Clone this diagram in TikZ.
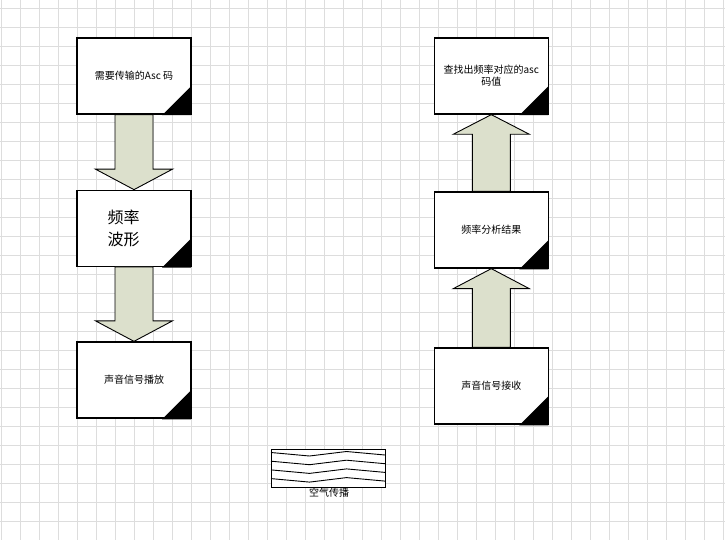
\documentclass[tikz,border=0pt]{standalone}
\usepackage{fontspec}
\newfontfamily\cjk{Noto Sans CJK SC}
\usetikzlibrary{calc}
\definecolor{arrowfill}{RGB}{220,224,204}
\definecolor{gridgray}{RGB}{221,221,221}
\begin{document}
\begin{tikzpicture}[x=1pt,y=-1pt,
    gridline/.style={draw=gridgray,line width=1pt},
    card/.style={draw,line width=1.3pt,fill=white,minimum width=114pt,minimum height=76pt,
      inner sep=2pt,font=\cjk\fontsize{10}{12}\selectfont,align=center},
    blockarrow/.style={draw,line width=0.9pt,fill=arrowfill,line join=miter}]
  \fill[white] (0,0) rectangle (725,540);
  \useasboundingbox (0,0) rectangle (725,540);
  \foreach \gx in {1.3,20.3,...,725} \draw[gridline] (\gx,0) -- (\gx,540);
  \foreach \gy in {8.3,27.3,...,540} \draw[gridline] (0,\gy) -- (725,\gy);

  \node[card] (ascin) at (134,76) {需要传输的Asc 码};
  \node[card,text width=52.6pt,align=left,font=\cjk\fontsize{16}{22}\selectfont] (boxing) at (134,228.3) {频率\\波形};
  \node[card] (bofang) at (134,380) {声音信号播放};

  \node[card] (chazhao) at (491.3,76) {查找出频率对应的asc\\码值};
  \node[card] (fenxi) at (491.3,230) {频率分析结果};
  \node[card] (jieshou) at (491.3,386) {声音信号接收};

  % folded corners
  \foreach \bx in {ascin,boxing,bofang,chazhao,fenxi,jieshou}
    \fill ([shift={(-0.6pt,-0.6pt)}]\bx.south east) -- ++(-29pt,0pt) -- ++(29pt,29pt) -- cycle;

  \draw[blockarrow] ($(ascin.south)+(-19,0)$) -- ($(ascin.south)+(19,0)$) -- ($(boxing.north)+(19,-20.5)$)
    -- ($(boxing.north)+(38.5,-20.5)$) -- (boxing.north) -- ($(boxing.north)+(-38.5,-20.5)$)
    -- ($(boxing.north)+(-19,-20.5)$) -- cycle;
  \draw[blockarrow] ($(boxing.south)+(-19,0)$) -- ($(boxing.south)+(19,0)$) -- ($(bofang.north)+(19,-20.5)$)
    -- ($(bofang.north)+(38.5,-20.5)$) -- (bofang.north) -- ($(bofang.north)+(-38.5,-20.5)$)
    -- ($(bofang.north)+(-19,-20.5)$) -- cycle;

  \draw[blockarrow] ($(jieshou.north)+(-19,0)$) -- ($(jieshou.north)+(19,0)$) -- ($(fenxi.south)+(19,20)$)
    -- ($(fenxi.south)+(38,20)$) -- (fenxi.south) -- ($(fenxi.south)+(-38,20)$)
    -- ($(fenxi.south)+(-19,20)$) -- cycle;
  \draw[blockarrow] ($(fenxi.north)+(-19,0)$) -- ($(fenxi.north)+(19,0)$) -- ($(chazhao.south)+(19,19.6)$)
    -- ($(chazhao.south)+(38,19.6)$) -- (chazhao.south) -- ($(chazhao.south)+(-38,19.6)$)
    -- ($(chazhao.south)+(-19,19.6)$) -- cycle;

  % air
  \node[draw,line width=1pt,fill=white,minimum width=114pt,minimum height=38pt,inner sep=0pt] (kongqi) at (328.5,468.5) {};
  \foreach \zy in {3.5,12.2,20.9,29.6}
    \draw[line width=0.9pt] (kongqi.north west) +(0,\zy) -- +(38.5,\zy+3.5) -- +(75.5,\zy-1) -- +(114,\zy+2.5);
  \node[font=\cjk\fontsize{10}{12}\selectfont,inner sep=0pt] (kongqilbl) at (329,493) {空气传播};
\end{tikzpicture}
\end{document}
